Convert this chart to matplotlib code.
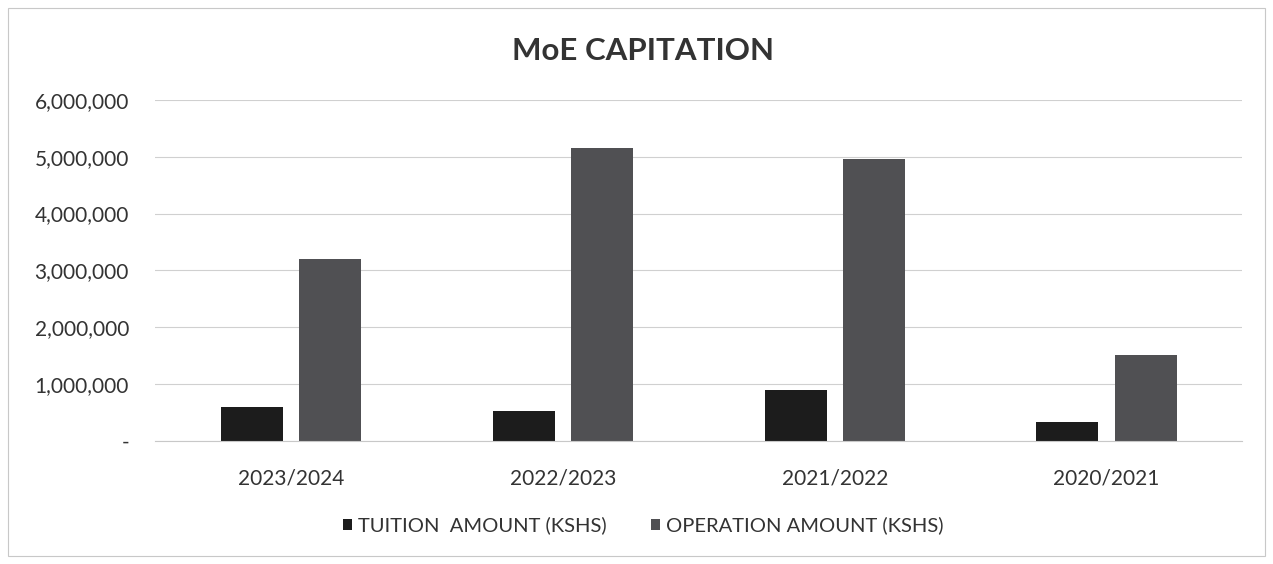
import matplotlib
matplotlib.use("Agg")
import matplotlib.pyplot as plt
import numpy as np
from matplotlib.ticker import FuncFormatter
from matplotlib.patches import Rectangle

categories = ["2023/2024", "2022/2023", "2021/2022", "2020/2021"]
tuition = [600000, 530000, 900000, 330000]
operation = [3200000, 5150000, 4960000, 1520000]
series_names = ["TUITION  AMOUNT (KSHS)", "OPERATION AMOUNT (KSHS)"]
title = "MoE CAPITATION"

plt.rcParams['font.family'] = ['Lato', 'DejaVu Sans']

fig = plt.figure(figsize=(12.73, 5.64), dpi=100)
ax = fig.add_axes([0.122, 0.218, 0.854, 0.605])

x = np.arange(len(categories))
w = 0.228
off = 0.144
ax.bar(x - off, tuition, w, color="#1c1c1c", label=series_names[0])
ax.bar(x + off, operation, w, color="#505053", label=series_names[1])

ax.set_xlim(-0.5, len(categories) - 0.5)
ax.set_ylim(0, 6000000)
ax.set_yticks(np.arange(0, 6000001, 1000000))
ax.yaxis.set_major_formatter(FuncFormatter(lambda v, p: "-" if v == 0 else f"{int(v):,}"))
ax.grid(axis="y", color="#d0d0d0", linewidth=0.8)
ax.set_axisbelow(True)
for s in ["top", "right", "left"]:
    ax.spines[s].set_visible(False)
ax.spines["bottom"].set_color("#c8c8c8")
ax.tick_params(axis="both", length=0, labelsize=15, colors="#333333")
ax.tick_params(axis="y", pad=19)
ax.set_xticks(x)
ax.set_xticklabels(categories)
ax.tick_params(axis="x", pad=20)

fig.text(0.505, 0.91, title, ha="center", va="center", fontsize=22.5, fontweight="bold", color="#333333")

fig.legend(loc="center", bbox_to_anchor=(0.505, 0.068), ncol=2, frameon=False,
           fontsize=14.5, handlelength=0.45, handleheight=0.45, handletextpad=0.3,
           columnspacing=2.2, labelcolor="#333333")

fig.patches.append(Rectangle((0.006, 0.015), 0.988, 0.97, transform=fig.transFigure,
                             fill=False, edgecolor="#c8c8c8", linewidth=0.8))

fig.savefig("out.png", dpi=100)
